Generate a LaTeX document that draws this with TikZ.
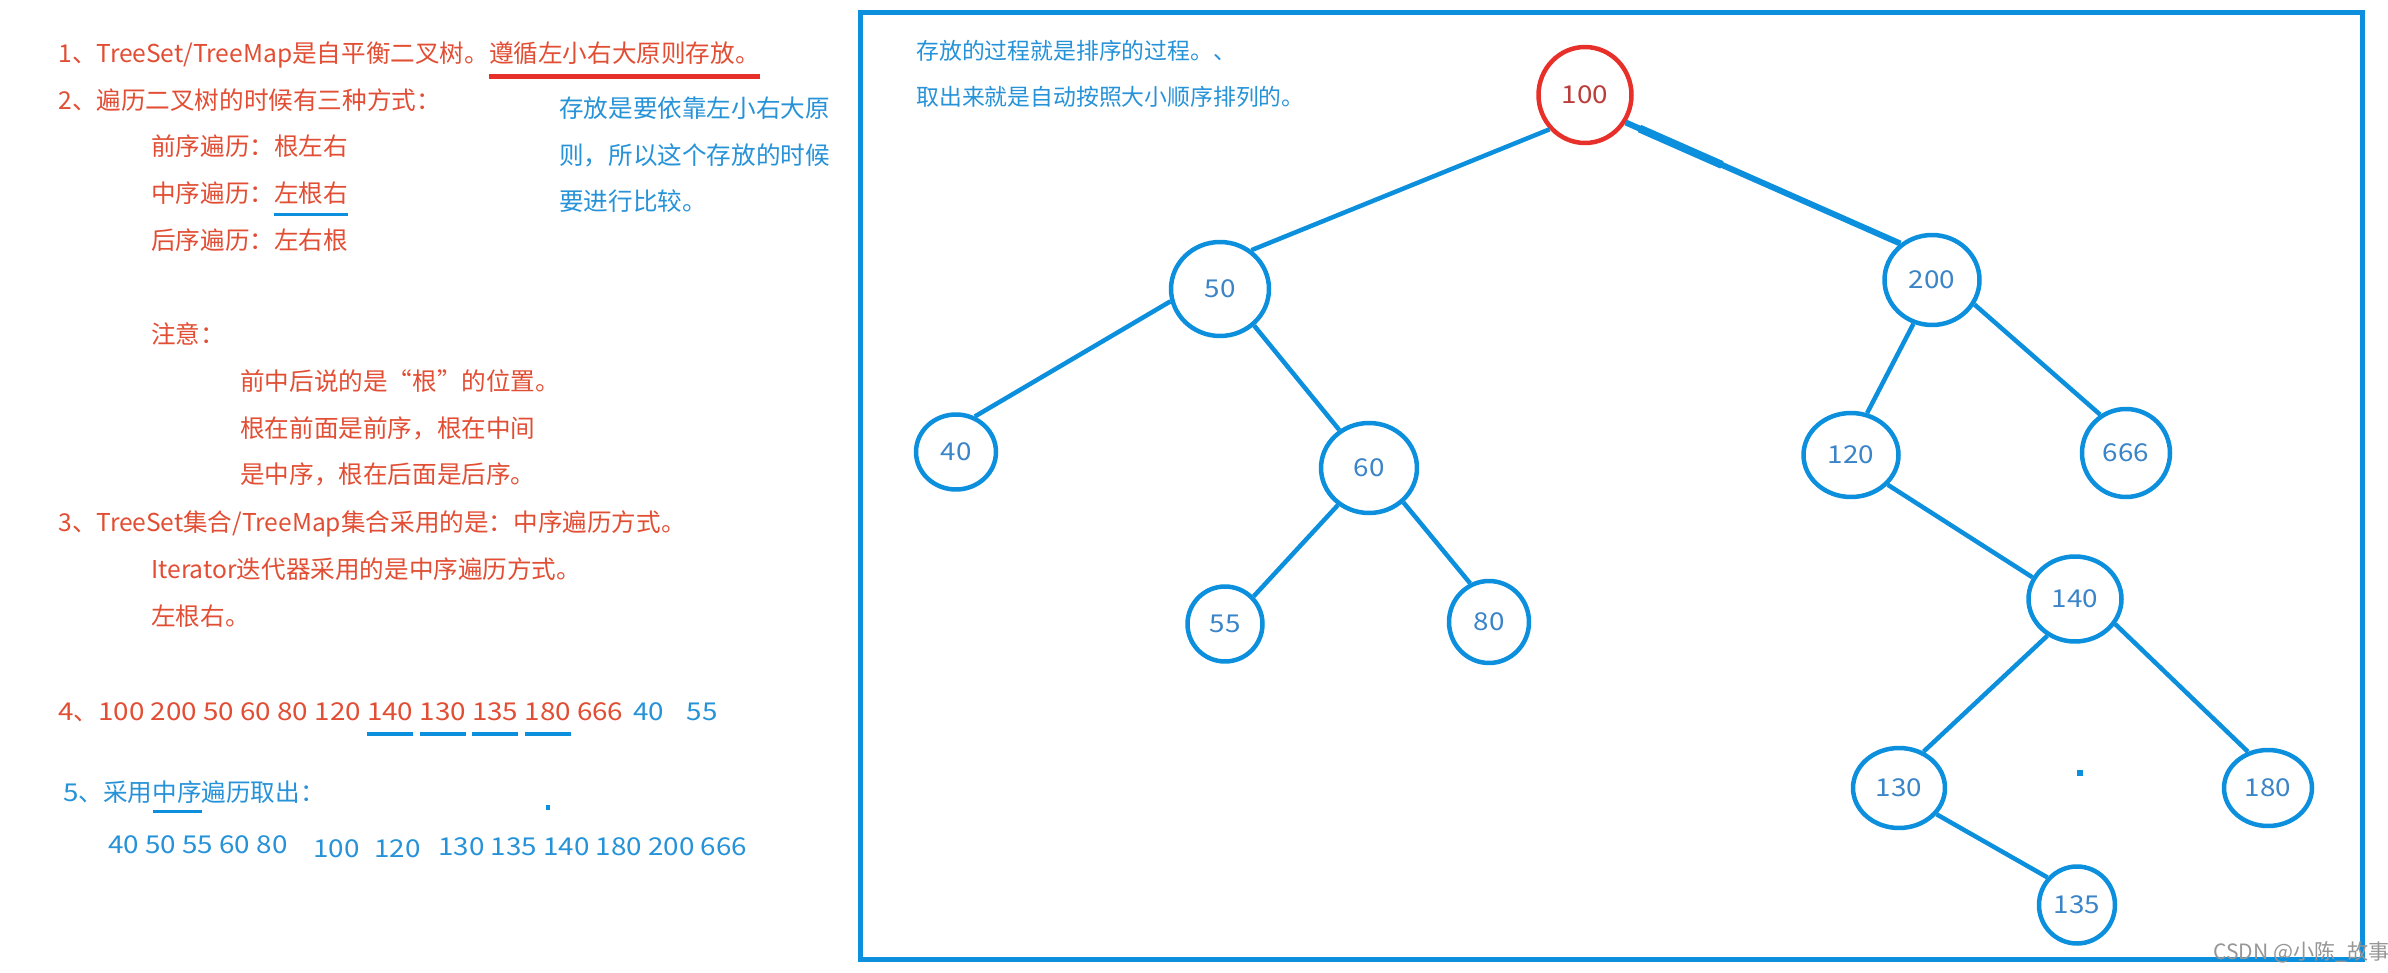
\documentclass[tikz,border=0pt]{standalone}
\usepackage{fontspec}
\setmainfont{Noto Sans CJK SC}
\newfontfamily\numfont[FakeStretch=1.13]{Noto Sans CJK SC}
\usetikzlibrary{shapes.geometric,calc}
\definecolor{redtxt}{RGB}{226,78,52}
\definecolor{redln}{RGB}{232,48,42}
\definecolor{bluetxt}{RGB}{38,146,216}
\definecolor{blueln}{RGB}{12,144,222}
\definecolor{numtxt}{RGB}{58,132,200}
\definecolor{rootnum}{RGB}{188,62,58}
\definecolor{wmgray}{RGB}{150,150,150}
\newcommand\ulmark[4]{\setbox0\hbox{#4}\rlap{\color{#1}\rule[#2]{\wd0}{#3}}\box0\relax}
\begin{document}
\begin{tikzpicture}[x=0.02cm,y=-0.02cm,
  every node/.style={font=\fontsize{14pt}{17pt}\selectfont, inner sep=0pt},
  rt/.style={anchor=base west, text=redtxt},
  bt/.style={anchor=base west, text=bluetxt},
  tn/.style={ellipse, draw=blueln, line width=0.09cm, text=numtxt, font=\fontsize{14pt}{17pt}\numfont},
  edge/.style={draw=blueln, line width=0.09cm}]
\useasboundingbox (0,0) rectangle (2388,973);
\fill[white] (0,0) rectangle (2388,973);

% left column
\node[rt] (t1) at (58,63) {1、TreeSet/TreeMap是自平衡二叉树。\ulmark{redln}{-0.33cm}{0.1cm}{遵循左小右大原则存放。}};
\node[rt] (t2) at (58,110) {2、遍历二叉树的时候有三种方式：};
\node[rt] (t2a) at (151,156) {前序遍历：根左右};
\node[rt] (t2b) at (151,203) {中序遍历：\ulmark{blueln}{-0.27cm}{0.06cm}{左根右}};
\node[rt] (t2c) at (151,250) {后序遍历：左右根};
\node[rt] (tn0) at (151,343) {注意：};
\node[rt] (tn1) at (240,391) {前中后说的是“根”的位置。};
\node[rt] (tn2) at (240,438) {根在前面是前序，根在中间};
\node[rt] (tn3) at (240,483) {是中序，根在后面是后序。};
\node[bt] (b1) at (559,118) {存放是要依靠左小右大原};
\node[bt] (b2) at (559,165) {则，所以这个存放的时候};
\node[bt] (b3) at (559,211) {要进行比较。};
\node[rt] (t3) at (58,531) {3、TreeSet集合/TreeMap集合采用的是：中序遍历方式。};
\node[rt] (t3a) at (151,578) {Iterator迭代器采用的是中序遍历方式。};
\node[rt] (t3b) at (151,625) {左根右。};
\node[rt] (t4) at (58,720) {{\numfont 4}、{\numfont 100 200 50 60 80 120 \ulmark{blueln}{-0.32cm}{0.08cm}{140} \ulmark{blueln}{-0.32cm}{0.08cm}{130} \ulmark{blueln}{-0.32cm}{0.08cm}{135} \ulmark{blueln}{-0.32cm}{0.08cm}{180} 666\hspace{0.2cm}\textcolor{bluetxt}{40}\hspace{0.45cm}\textcolor{bluetxt}{55}}};
\node[bt] (t5) at (63,801) {{\numfont 5}、采用\ulmark{blueln}{-0.23cm}{0.06cm}{中序}遍历取出：};
\fill[blueln] (546,805) rectangle (550,810);
\node[bt, font=\fontsize{14pt}{17pt}\numfont] (s1) at (108,853) {40 50 55 60 80};
\node[bt, font=\fontsize{14pt}{17pt}\numfont] (s2) at (313,857) {100};
\node[bt, font=\fontsize{14pt}{17pt}\numfont] (s3) at (374,857) {120};
\node[bt, font=\fontsize{14pt}{17pt}\numfont] (s4) at (438,855) {130 135 140 180 200 666};

% frame
\draw[blueln, line width=0.1cm] (860,13) rectangle (2362,959);
\node[bt, font=\fontsize{13pt}{16pt}\selectfont] (f1) at (916,60) {存放的过程就是排序的过程。、};
\node[bt, font=\fontsize{13pt}{16pt}\selectfont] (f2) at (916,106) {取出来就是自动按照大小顺序排列的。};

% tree nodes
\node[tn, draw=redln, text=rootnum, minimum width=1.86cm, minimum height=1.92cm] (n100) at (1585,95) {100};
\node[tn, minimum width=1.96cm, minimum height=1.88cm] (n50) at (1220,289) {50};
\node[tn, minimum width=1.90cm, minimum height=1.80cm] (n200) at (1932,280) {200};
\node[tn, minimum width=1.60cm, minimum height=1.50cm] (n40) at (956,452) {40};
\node[tn, minimum width=1.92cm, minimum height=1.80cm] (n60) at (1369,468) {60};
\node[tn, minimum width=1.50cm, minimum height=1.50cm] (n55) at (1225,624) {55};
\node[tn, minimum width=1.60cm, minimum height=1.64cm] (n80) at (1489,622) {80};
\node[tn, minimum width=1.90cm, minimum height=1.68cm] (n120) at (1851,455) {120};
\node[tn, minimum width=1.76cm, minimum height=1.76cm] (n666) at (2126,453) {666};
\node[tn, minimum width=1.86cm, minimum height=1.70cm] (n140) at (2075,599) {140};
\node[tn, minimum width=1.84cm, minimum height=1.60cm] (n130) at (1899,788) {130};
\node[tn, minimum width=1.76cm, minimum height=1.52cm] (n180) at (2268,788) {180};
\node[tn, minimum width=1.52cm, minimum height=1.54cm] (n135) at (2077,905) {135};
\fill[blueln] (2077,770) rectangle (2083,776);

% edges
\draw[edge] (n100.-136) -- (n50.51);
\draw[edge, line width=0.12cm] (n100.-34) -- (n200.131);
\draw[edge, line width=0.16cm] ($(n100.-34)!0.05!(n200.131)$) -- ($(n100.-34)!0.35!(n200.131)$);
\draw[edge] (n50.-166) -- (n40.62);
\draw[edge] (n50.-47) -- (n60.128);
\draw[edge] (n60.-130) -- (n55.44);
\draw[edge] (n60.-45) -- (n80.116);
\draw[edge] (n200.-113) -- (n120.69);
\draw[edge] (n200.-30) -- (n666.124);
\draw[edge] (n120.-39) -- (n140.153);
\draw[edge] (n140.-127) -- (n130.56);
\draw[edge] (n140.-32) -- (n180.119);
\draw[edge] (n130.-35) -- (n135.137);

% watermark
\node[anchor=base west, text=wmgray, font=\fontsize{12pt}{14pt}\selectfont] (wm) at (2213,959) {CSDN @小陈\_故事};
\end{tikzpicture}
\end{document}
